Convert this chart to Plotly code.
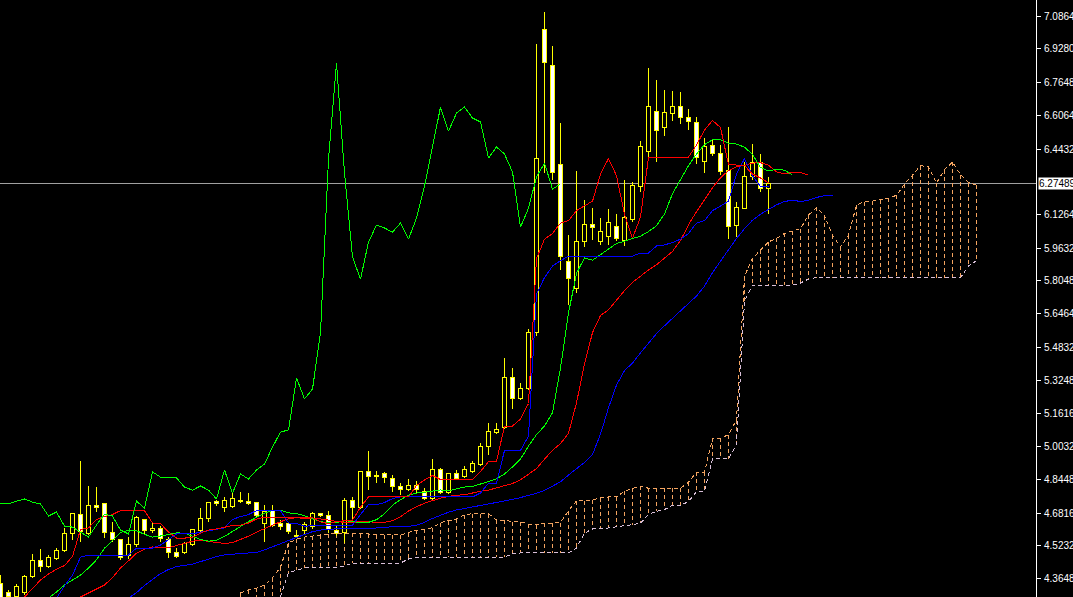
import numpy as np
import plotly.graph_objects as go

# ---------------- data (price units) ----------------
open_ = [4.339, 4.295, 4.276, 4.295, 4.372, 4.450, 4.421, 4.460, 4.498, 4.581,
         4.672, 4.581, 4.716, 4.726, 4.585, 4.552, 4.474, 4.527, 4.648, 4.595,
         4.605, 4.552, 4.489, 4.489, 4.527, 4.595, 4.653, 4.735, 4.706, 4.711,
         4.740, 4.735, 4.730, 4.629, 4.692, 4.629, 4.629, 4.571, 4.595, 4.614,
         4.677, 4.668, 4.595, 4.585, 4.740, 4.706, 4.881, 4.861, 4.871, 4.847,
         4.808, 4.793, 4.813, 4.784, 4.750, 4.890, 4.779, 4.871, 4.856, 4.881,
         4.914, 5.001, 5.069, 5.093, 5.336, 5.234, 5.282, 5.553, 7.019, 6.845,
         6.366, 5.896, 5.766, 5.993, 6.075, 5.993, 6.017, 6.065, 5.998, 6.100,
         6.259, 6.429, 6.622, 6.545, 6.612, 6.646, 6.593, 6.569, 6.380, 6.458,
         6.419, 6.337, 6.070, 6.152, 6.308, 6.375, 6.249]
high = [4.382, 4.310, 4.339, 4.382, 4.484, 4.508, 4.479, 4.513, 4.610, 4.682,
        4.934, 4.813, 4.808, 4.726, 4.639, 4.552, 4.566, 4.668, 4.648, 4.639,
        4.619, 4.566, 4.513, 4.542, 4.605, 4.706, 4.735, 4.745, 4.760, 4.779,
        4.784, 4.779, 4.735, 4.721, 4.721, 4.648, 4.634, 4.600, 4.639, 4.687,
        4.682, 4.692, 4.624, 4.755, 4.760, 4.886, 4.982, 4.886, 4.881, 4.866,
        4.827, 4.847, 4.837, 4.803, 4.943, 4.900, 4.876, 4.890, 4.910, 4.934,
        5.020, 5.118, 5.118, 5.432, 5.384, 5.311, 5.573, 6.951, 7.106, 6.941,
        6.568, 6.027, 6.337, 6.196, 6.157, 6.109, 6.152, 6.128, 6.293, 6.284,
        6.482, 6.835, 6.777, 6.729, 6.724, 6.719, 6.636, 6.598, 6.496, 6.487,
        6.462, 6.549, 6.186, 6.380, 6.467, 6.419, 6.308]
low = [4.246, 4.261, 4.271, 4.285, 4.368, 4.397, 4.416, 4.455, 4.493, 4.552,
       4.542, 4.576, 4.687, 4.561, 4.542, 4.455, 4.460, 4.518, 4.581, 4.585,
       4.542, 4.464, 4.464, 4.484, 4.522, 4.590, 4.639, 4.716, 4.687, 4.706,
       4.730, 4.721, 4.663, 4.542, 4.614, 4.600, 4.581, 4.561, 4.581, 4.605,
       4.663, 4.585, 4.571, 4.537, 4.648, 4.701, 4.793, 4.827, 4.827, 4.784,
       4.769, 4.789, 4.779, 4.745, 4.745, 4.774, 4.774, 4.842, 4.852, 4.876,
       4.910, 4.963, 5.064, 5.089, 5.186, 5.229, 5.277, 5.539, 6.327, 6.293,
       5.858, 5.689, 5.746, 5.969, 6.003, 5.979, 5.979, 5.998, 5.974, 6.090,
       6.235, 6.404, 6.380, 6.506, 6.578, 6.564, 6.535, 6.370, 6.327, 6.409,
       6.317, 6.007, 6.017, 6.152, 6.293, 6.235, 6.128]
close = [4.271, 4.276, 4.324, 4.372, 4.450, 4.421, 4.464, 4.498, 4.581, 4.677,
         4.590, 4.716, 4.706, 4.585, 4.552, 4.464, 4.527, 4.658, 4.595, 4.605,
         4.556, 4.489, 4.469, 4.532, 4.600, 4.653, 4.730, 4.726, 4.740, 4.750,
         4.735, 4.726, 4.668, 4.687, 4.619, 4.614, 4.590, 4.566, 4.624, 4.677,
         4.668, 4.600, 4.581, 4.740, 4.706, 4.881, 4.856, 4.856, 4.852, 4.808,
         4.793, 4.813, 4.793, 4.750, 4.890, 4.779, 4.871, 4.847, 4.890, 4.919,
         5.001, 5.074, 5.084, 5.336, 5.234, 5.282, 5.553, 6.395, 6.859, 6.327,
         5.921, 5.814, 5.993, 6.075, 6.061, 6.041, 6.085, 6.007, 6.109, 6.264,
         6.453, 6.646, 6.530, 6.617, 6.646, 6.593, 6.574, 6.399, 6.453, 6.419,
         6.332, 6.065, 6.157, 6.308, 6.375, 6.249, 6.27489]

tenkan = [4.188, 4.222, 4.251, 4.276, 4.319, 4.358, 4.387, 4.411, 4.428, 4.472,
          4.602, 4.610, 4.651, 4.665, 4.675, 4.694, 4.694, 4.694, 4.694, 4.634,
          4.631, 4.590, 4.561, 4.561, 4.564, 4.585, 4.600, 4.605, 4.612, 4.622,
          4.624, 4.634, 4.653, 4.663, 4.663, 4.663, 4.663, 4.663, 4.663, 4.660,
          4.639, 4.631, 4.641, 4.646, 4.648, 4.711, 4.760, 4.760, 4.760, 4.760,
          4.760, 4.760, 4.815, 4.842, 4.864, 4.844, 4.844, 4.844, 4.844, 4.844,
          4.883, 4.931, 4.931, 5.103, 5.103, 5.137, 5.212, 5.913, 6.007, 6.034,
          6.085, 6.097, 6.145, 6.167, 6.191, 6.322, 6.397, 6.314, 6.128, 6.012,
          6.114, 6.402, 6.404, 6.404, 6.404, 6.404, 6.404, 6.462, 6.535, 6.581,
          6.547, 6.368, 6.366, 6.363, 6.322, 6.303, 6.279]
kijun = [4.067, 4.092, 4.116, 4.140, 4.188, 4.237, 4.261, 4.271, 4.329, 4.382,
         4.469, 4.479, 4.479, 4.479, 4.479, 4.479, 4.479, 4.513, 4.513, 4.513,
         4.527, 4.552, 4.581, 4.581, 4.581, 4.590, 4.597, 4.602, 4.610, 4.651,
         4.665, 4.675, 4.694, 4.694, 4.694, 4.694, 4.634, 4.631, 4.619, 4.619,
         4.619, 4.622, 4.624, 4.624, 4.624, 4.675, 4.723, 4.723, 4.733, 4.752,
         4.760, 4.760, 4.760, 4.760, 4.760, 4.760, 4.760, 4.760, 4.760, 4.760,
         4.779, 4.827, 4.827, 4.985, 4.985, 4.985, 5.055, 5.743, 5.821, 5.877,
         5.903, 5.925, 5.925, 5.925, 5.925, 5.925, 5.925, 5.925, 5.925, 5.925,
         5.940, 5.940, 5.974, 5.979, 5.991, 6.007, 6.034, 6.085, 6.097, 6.145,
         6.167, 6.191, 6.322, 6.397, 6.314, 6.262, 6.262]

# Senkou spans, source bars 4..96 (plotted 26 bars ahead)
SPAN_FIRST = 4
span_a = [4.296, 4.310, 4.319, 4.334, 4.368, 4.421, 4.537, 4.556, 4.566, 4.571,
          4.576, 4.581, 4.581, 4.585, 4.585, 4.581, 4.581, 4.576, 4.576, 4.576,
          4.576, 4.588, 4.599, 4.604, 4.611, 4.636, 4.645, 4.654, 4.674, 4.679,
          4.679, 4.679, 4.648, 4.647, 4.641, 4.640, 4.629, 4.626, 4.632, 4.635,
          4.636, 4.693, 4.741, 4.741, 4.746, 4.756, 4.760, 4.760, 4.788, 4.801,
          4.812, 4.802, 4.802, 4.802, 4.802, 4.802, 4.831, 4.879, 4.879, 5.044,
          5.044, 5.061, 5.133, 5.828, 5.914, 5.956, 5.994, 6.011, 6.035, 6.046,
          6.058, 6.123, 6.161, 6.120, 6.027, 5.969, 6.027, 6.171, 6.189, 6.191,
          6.198, 6.206, 6.219, 6.274, 6.316, 6.363, 6.357, 6.278, 6.344, 6.380,
          6.319, 6.281, 6.269]
span_b = [4.140, 4.174, 4.203, 4.232, 4.256, 4.280, 4.392, 4.406, 4.416, 4.421,
          4.421, 4.421, 4.421, 4.426, 4.440, 4.440, 4.440, 4.440, 4.440, 4.440,
          4.440, 4.460, 4.469, 4.469, 4.469, 4.469, 4.469, 4.469, 4.469, 4.469,
          4.469, 4.469, 4.469, 4.469, 4.484, 4.489, 4.489, 4.489, 4.489, 4.489,
          4.489, 4.489, 4.513, 4.585, 4.605, 4.605, 4.610, 4.614, 4.621, 4.626,
          4.634, 4.675, 4.690, 4.699, 4.719, 4.719, 4.738, 4.786, 4.786, 4.944,
          4.944, 4.944, 5.014, 5.706, 5.785, 5.785, 5.785, 5.785, 5.785, 5.785,
          5.795, 5.814, 5.821, 5.821, 5.821, 5.821, 5.821, 5.821, 5.821, 5.821,
          5.821, 5.821, 5.821, 5.821, 5.821, 5.821, 5.821, 5.821, 5.821, 5.821,
          5.821, 5.877, 5.903]
SHIFT = 26

# Alligator lines (already shifted), first plotted bar position of each
LIPS_FIRST, TEETH_FIRST, JAWS_FIRST = 6, 9, 16
lips = [4.271, 4.300, 4.334, 4.356, 4.382, 4.416, 4.456, 4.512, 4.549, 4.588,
        4.599, 4.597, 4.579, 4.566, 4.571, 4.580, 4.586, 4.585, 4.571, 4.554,
        4.546, 4.550, 4.569, 4.593, 4.621, 4.641, 4.661, 4.681, 4.695, 4.696,
        4.683, 4.680, 4.669, 4.656, 4.641, 4.635, 4.637, 4.644, 4.643, 4.634,
        4.637, 4.650, 4.679, 4.720, 4.747, 4.768, 4.779, 4.783, 4.790, 4.794,
        4.790, 4.800, 4.808, 4.811, 4.822, 4.834, 4.848, 4.871, 4.905, 4.943,
        5.006, 5.062, 5.103, 5.168, 5.384, 5.650, 5.842, 5.916, 5.905, 5.932,
        5.962, 5.986, 5.997, 6.011, 6.021, 6.044, 6.072, 6.129, 6.227, 6.298,
        6.362, 6.419, 6.464, 6.488, 6.487, 6.472, 6.467, 6.452, 6.417, 6.354,
        6.337, 6.345, 6.341, 6.317]
teeth = [4.251, 4.276, 4.295, 4.314, 4.334, 4.370, 4.416, 4.451, 4.488, 4.507,
         4.518, 4.516, 4.515, 4.525, 4.536, 4.546, 4.550, 4.546, 4.539, 4.535,
         4.539, 4.553, 4.570, 4.590, 4.607, 4.624, 4.640, 4.654, 4.660, 4.656,
         4.658, 4.654, 4.648, 4.640, 4.636, 4.637, 4.641, 4.641, 4.636, 4.637,
         4.645, 4.664, 4.692, 4.712, 4.730, 4.742, 4.754, 4.762, 4.769, 4.770,
         4.780, 4.788, 4.793, 4.803, 4.813, 4.825, 4.843, 4.868, 4.897, 4.943,
         4.986, 5.018, 5.068, 5.215, 5.403, 5.555, 5.638, 5.665, 5.712, 5.758,
         5.798, 5.828, 5.858, 5.883, 5.914, 5.948, 6.000, 6.077, 6.140, 6.200,
         6.256, 6.304, 6.339, 6.357, 6.364, 6.375, 6.377, 6.365, 6.332, 6.323,
         6.331, 6.330, 6.316]
jaws = [4.271, 4.297, 4.332, 4.359, 4.389, 4.409, 4.423, 4.429, 4.435, 4.447,
        4.460, 4.472, 4.480, 4.483, 4.484, 4.486, 4.492, 4.504, 4.518, 4.535,
        4.549, 4.564, 4.579, 4.592, 4.600, 4.603, 4.608, 4.609, 4.609, 4.607,
        4.607, 4.610, 4.614, 4.616, 4.615, 4.617, 4.624, 4.637, 4.656, 4.672,
        4.686, 4.697, 4.704, 4.713, 4.720, 4.725, 4.734, 4.742, 4.748, 4.757,
        4.767, 4.778, 4.792, 4.811, 4.833, 4.866, 4.898, 4.927, 4.965, 5.064,
        5.191, 5.301, 5.371, 5.408, 5.457, 5.505, 5.550, 5.588, 5.624, 5.658,
        5.695, 5.732, 5.780, 5.845, 5.901, 5.957, 6.010, 6.058, 6.099, 6.128,
        6.150, 6.173, 6.189, 6.196, 6.189, 6.195, 6.209, 6.217, 6.217]

tick_vals = [7.08640, 6.92800, 6.76480, 6.60640, 6.44320, 6.12640, 5.96320,
             5.80480, 5.64640, 5.48320, 5.32480, 5.16160, 5.00320, 4.84480,
             4.68160, 4.52320, 4.36480]
last_price = 6.27489

# ---------------- figure ----------------
YEL, RED, BLUE, LIME = "#FFFF00", "#FF0000", "#0000FF", "#00FF00"
SANDY, THISTLE = "#F4A460", "#D8BFD8"
FONT = "Liberation Sans"

o = np.array(open_); h = np.array(high); l = np.array(low); c = np.array(close)
n = len(c)
idx = np.arange(n)
top = np.maximum(o, c)
bot = np.minimum(o, c)
body = np.maximum(top - bot, 0.0025)
fill = ["#FFFFFF" if cc < oo else "#000000" for oo, cc in zip(o, c)]

fig = go.Figure()
# candle bodies (first trace so every line is layered above them)
fig.add_trace(go.Bar(x=idx, y=body, base=bot, width=0.5,
                     marker=dict(color=fill, line=dict(color=YEL, width=1)),
                     hoverinfo="skip"))

# Kumo hatch
pa = np.arange(len(span_a)) + SPAN_FIRST + SHIFT
hx, hy = [], []
for p, a, b in zip(pa, span_a, span_b):
    hx += [p, p, None]
    hy += [a, b, None]
fig.add_trace(go.Scatter(x=hx, y=hy, mode="lines",
                         line=dict(color=SANDY, width=1, dash="4px,3px"),
                         hoverinfo="skip"))
fig.add_trace(go.Scatter(x=pa, y=span_b, mode="lines",
                         line=dict(color=THISTLE, width=1, dash="4px,3px"),
                         hoverinfo="skip"))
fig.add_trace(go.Scatter(x=pa, y=span_a, mode="lines",
                         line=dict(color=SANDY, width=1, dash="4px,3px"),
                         hoverinfo="skip"))

# wicks (split so they do not cross the bodies)
wx, wy = [], []
for i in range(n):
    wx += [i, i, None, i, i, None]
    wy += [h[i], top[i], None, bot[i], l[i], None]
fig.add_trace(go.Scatter(x=wx, y=wy, mode="lines",
                         line=dict(color=YEL, width=1), hoverinfo="skip"))

# Alligator
fig.add_trace(go.Scatter(x=np.arange(len(jaws)) + JAWS_FIRST, y=jaws, mode="lines",
                         line=dict(color=BLUE, width=1), hoverinfo="skip"))
fig.add_trace(go.Scatter(x=np.arange(len(teeth)) + TEETH_FIRST, y=teeth, mode="lines",
                         line=dict(color=RED, width=1), hoverinfo="skip"))
fig.add_trace(go.Scatter(x=np.arange(len(lips)) + LIPS_FIRST, y=lips, mode="lines",
                         line=dict(color=LIME, width=1), hoverinfo="skip"))

# Ichimoku
fig.add_trace(go.Scatter(x=idx, y=kijun, mode="lines",
                         line=dict(color=BLUE, width=1), hoverinfo="skip"))
fig.add_trace(go.Scatter(x=idx, y=tenkan, mode="lines",
                         line=dict(color=RED, width=1), hoverinfo="skip"))
fig.add_trace(go.Scatter(x=idx[:n - SHIFT], y=c[SHIFT:], mode="lines",
                         line=dict(color=LIME, width=1), hoverinfo="skip"))

# current price line + label
fig.add_shape(type="line", xref="paper", x0=0, x1=1, yref="y",
              y0=last_price, y1=last_price, line=dict(color="#A0A0A0", width=1),
              layer="below")
fig.add_annotation(xref="paper", x=1, xanchor="left", xshift=2, yref="y", y=last_price,
                   text=f"{last_price:.5f}", showarrow=False, bgcolor="#FFFFFF",
                   borderpad=0, font=dict(family=FONT, size=10, color="#000000"))

fig.update_layout(
    width=1073, height=597,
    paper_bgcolor="#000000", plot_bgcolor="#000000",
    margin=dict(l=0, r=37, t=0, b=0, autoexpand=False),
    showlegend=False, bargap=0,
    xaxis=dict(range=[-0.0625, 129.4375], visible=False, fixedrange=True,
               automargin=False),
    yaxis=dict(side="right", range=[4.276, 7.164], showgrid=False, zeroline=False,
               showline=True, linecolor="#FFFFFF", linewidth=1,
               ticks="outside", ticklen=4, tickcolor="#FFFFFF", tickwidth=1,
               ticklabelstandoff=1, ticklabeloverflow="allow", automargin=False,
               tickvals=tick_vals, ticktext=[f"{v:.5f}" for v in tick_vals],
               tickfont=dict(family=FONT, size=10, color="#FFFFFF"),
               fixedrange=True),
)

fig.write_html(
    "out.html", config={"displayModeBar": False},
    post_script=("document.body.style.margin='0';document.body.style.background='#000';"
                 "var s=document.createElement('style');"
                 "s.textContent='.main-svg path{shape-rendering:crispEdges}';"
                 "document.head.appendChild(s);"))
